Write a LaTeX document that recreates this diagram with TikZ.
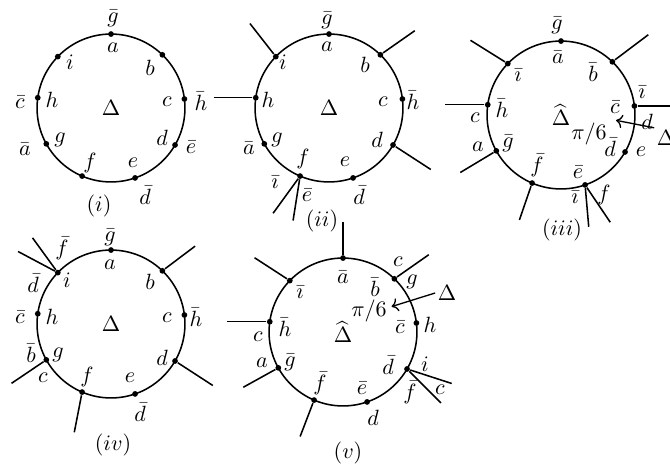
\documentclass[tikz,border=0pt]{standalone}
\usepackage{amsmath,amssymb}
\usetikzlibrary{arrows.meta}

\begin{document}
\begin{tikzpicture}[
  x=0.453pt, y=0.453pt,
  every node/.style={inner sep=1pt},
  ring/.style={circle, draw, line width=0.7pt, minimum size=67pt, inner sep=0pt, outer sep=0pt},
  dot/.style={circle, fill, inner sep=0pt, minimum size=2.6pt},
  leg/.style={line width=0.7pt},
  pointer/.style={-{To}, line width=0.6pt}
]
  \useasboundingbox (0,0) rectangle (670,-466);

  % Circle (i)
  \node[ring] (c1) at (111,-108) {$\Delta$};
  \node[dot] (c1a) at (c1.90) {};  \node[dot] (c1b) at (c1.46) {};
  \node[dot] (c1c) at (c1.7) {};   \node[dot] (c1d) at (c1.330) {};
  \node[dot] (c1e) at (c1.289) {}; \node[dot] (c1f) at (c1.247) {};
  \node[dot] (c1g) at (c1.209) {}; \node[dot] (c1h) at (c1.172) {};
  \node[dot] (c1i) at (c1.136) {};
  \node (i1a) at (113,-48) {$a$};  \node (i1b) at (150,-68) {$b$};
  \node (i1c) at (167,-102) {$c$}; \node (i1d) at (162,-138) {$d$};
  \node (i1e) at (133,-163) {$e$}; \node (i1f) at (90,-163) {$f$};
  \node (i1g) at (60,-140) {$g$};  \node (i1h) at (52,-100) {$h$};
  \node (i1i) at (70,-62) {$i$};
  \node (o1a) at (113,-18) {$\bar g$};  \node (o1c) at (201,-101) {$\bar h$};
  \node (o1d) at (191,-147) {$\bar e$}; \node (o1e) at (145,-195) {$\bar d$};
  \node (o1g) at (25,-149) {$\bar a$};  \node (o1h) at (20,-102) {$\bar c$};
  \node (tag1) at (99,-206) {$(i)$};

  % Circle (ii)
  \node[ring] (c2) at (329,-108) {$\Delta$};
  \node[dot] (c2a) at (c2.90) {};  \node[dot] (c2b) at (c2.46) {};
  \node[dot] (c2c) at (c2.7) {};   \node[dot] (c2d) at (c2.330) {};
  \node[dot] (c2e) at (c2.289) {}; \node[dot] (c2f) at (c2.247) {};
  \node[dot] (c2g) at (c2.209) {}; \node[dot] (c2h) at (c2.172) {};
  \node[dot] (c2i) at (c2.136) {};
  \node (i2a) at (327,-47) {$a$};  \node (i2b) at (365,-65) {$b$};
  \node (i2c) at (383,-102) {$c$}; \node (i2d) at (377,-140) {$d$};
  \node (i2e) at (345,-162) {$e$}; \node (i2f) at (303,-159) {$f$};
  \node (i2g) at (277,-140) {$g$}; \node (i2h) at (268,-100) {$h$};
  \node (i2i) at (283,-62) {$i$};
  \node (o2a) at (327,-20) {$\bar g$};  \node (o2c) at (413,-100) {$\bar h$};
  \node (o2e) at (359,-195) {$\bar d$}; \node (o2f1) at (275,-182) {$\bar\imath$};
  \node (o2f2) at (307,-195) {$\bar e$}; \node (o2g) at (249,-148) {$\bar a$};
  \node (tag2) at (322,-221) {$(ii)$};
  \draw[leg] (c2b) -- ++(35:42);
  \draw[leg] (c2d) -- ++(-33:45);
  \draw[leg] (c2f) -- ++(-126:46);
  \draw[leg] (c2f) -- ++(-99:45);
  \draw[leg] (c2h) -- ++(180:42);
  \draw[leg] (c2i) -- ++(128:42);

  % Circle (iii)
  \node[ring] (c3) at (561,-115) {$\widehat{\Delta}$};
  \node[dot] (c3a) at (c3.90) {};  \node[dot] (c3b) at (c3.46) {};
  \node[dot] (c3c) at (c3.7) {};   \node[dot] (c3d) at (c3.330) {};
  \node[dot] (c3e) at (c3.289) {}; \node[dot] (c3f) at (c3.247) {};
  \node[dot] (c3g) at (c3.209) {}; \node[dot] (c3h) at (c3.172) {};
  \node[dot] (c3i) at (c3.136) {};
  \node (i3a) at (558,-57) {$\bar a$};  \node (i3b) at (593,-72) {$\bar b$};
  \node (i3c) at (615,-107) {$\bar c$}; \node (i3d) at (610,-147) {$\bar d$};
  \node (i3e) at (578,-172) {$\bar e$}; \node (i3f) at (537,-165) {$\bar f$};
  \node (i3g) at (508,-143) {$\bar g$}; \node (i3h) at (502,-108) {$\bar h$};
  \node (i3i) at (518,-75) {$\bar\imath$};
  \node (o3a) at (557,-25) {$\bar g$};
  \node (o3c1) at (642,-92) {$\bar\imath$}; \node (o3c2) at (647,-122) {$d$};
  \node (o3d) at (641,-152) {$e$};
  \node (o3e1) at (575,-197) {$\bar\imath$}; \node (o3e2) at (604,-195) {$f$};
  \node (o3g) at (478,-147) {$a$};  \node (o3h) at (475,-118) {$c$};
  \node (p3) at (589,-134) {$\pi/6$};
  \node (d3) at (666,-138) {$\Delta$};
  \node (tag3) at (562,-230) {$(iii)$};
  \draw[leg] (c3b) -- ++(37:45);
  \draw[leg] (c3c) -- ++(0:45);
  \draw[leg] (c3e) -- ++(-85:42);
  \draw[leg] (c3e) -- ++(-56:45);
  \draw[leg] (c3f) -- ++(-109:39);
  \draw[leg] (c3g) -- ++(-149:42);
  \draw[leg] (c3h) -- ++(180:43);
  \draw[leg] (c3i) -- ++(148:44);
  \draw[pointer] (d3.north west) -- ([xshift=3pt]p3.north east);

  % Circle (iv)
  \node[ring] (c4) at (111,-324) {$\Delta$};
  \node[dot] (c4a) at (c4.90) {};  \node[dot] (c4b) at (c4.46) {};
  \node[dot] (c4c) at (c4.7) {};   \node[dot] (c4d) at (c4.330) {};
  \node[dot] (c4e) at (c4.289) {}; \node[dot] (c4f) at (c4.247) {};
  \node[dot] (c4g) at (c4.209) {}; \node[dot] (c4h) at (c4.172) {};
  \node[dot] (c4i) at (c4.136) {};
  \node (i4a) at (110,-265) {$a$};  \node (i4b) at (150,-282) {$b$};
  \node (i4c) at (167,-318) {$c$};  \node (i4d) at (162,-358) {$d$};
  \node (i4e) at (130,-378) {$e$};  \node (i4f) at (87,-377) {$f$};
  \node (i4g) at (58,-355) {$g$};   \node (i4h) at (52,-317) {$h$};
  \node (i4i) at (67,-280) {$i$};
  \node (o4a) at (110,-237) {$\bar g$}; \node (o4c) at (196,-317) {$\bar h$};
  \node (o4e) at (140,-412) {$\bar d$};
  \node (o4g1) at (31,-353) {$\bar b$}; \node (o4g2) at (43,-378) {$c$};
  \node (o4h) at (20,-317) {$\bar c$};
  \node (o4i1) at (62,-248) {$\bar f$}; \node (o4i2) at (33,-283) {$\bar d$};
  \node (tag4) at (113,-445) {$(iv)$};
  \draw[leg] (c4b) -- ++(37:41);
  \draw[leg] (c4d) -- ++(-33:45);
  \draw[leg] (c4f) -- ++(-101:41);
  \draw[leg] (c4g) -- ++(-146:42);
  \draw[leg] (c4i) -- ++(152:45);
  \draw[leg] (c4i) -- ++(126:43);

  % Circle (v)
  \node[ring] (c5) at (343,-332) {$\widehat{\Delta}$};
  \node[dot] (c5a) at (c5.90) {};  \node[dot] (c5b) at (c5.46) {};
  \node[dot] (c5c) at (c5.7) {};   \node[dot] (c5d) at (c5.330) {};
  \node[dot] (c5e) at (c5.289) {}; \node[dot] (c5f) at (c5.247) {};
  \node[dot] (c5g) at (c5.209) {}; \node[dot] (c5h) at (c5.172) {};
  \node[dot] (c5i) at (c5.136) {};
  \node (i5a) at (343,-277) {$\bar a$}; \node (i5b) at (375,-287) {$\bar b$};
  \node (i5c) at (400,-327) {$\bar c$}; \node (i5d) at (388,-365) {$\bar d$};
  \node (i5e) at (362,-388) {$\bar e$}; \node (i5f) at (320,-383) {$\bar f$};
  \node (i5g) at (290,-362) {$\bar g$}; \node (i5h) at (285,-327) {$\bar h$};
  \node (i5i) at (300,-292) {$\bar\imath$};
  \node (o5b1) at (398,-262) {$c$}; \node (o5b2) at (412,-282) {$g$};
  \node (o5c) at (430,-325) {$h$};
  \node (o5d1) at (425,-364) {$i$}; \node (o5d2) at (440,-390) {$c$};
  \node (o5d3) at (410,-392) {$\bar f$};
  \node (o5e) at (373,-418) {$d$};
  \node (o5g) at (262,-363) {$a$};  \node (o5h) at (258,-337) {$c$};
  \node (p5) at (369,-311) {$\pi/6$};
  \node (d5) at (447,-293) {$\Delta$};
  \node (tag5) at (348,-453) {$(v)$};
  \draw[leg] (c5a) -- ++(90:36);
  \draw[leg] (c5b) -- ++(35:42);
  \draw[leg] (c5d) -- ++(-18:47);
  \draw[leg] (c5d) -- ++(-45:48);
  \draw[leg] (c5f) -- ++(-111:39);
  \draw[leg] (c5g) -- ++(-151:40);
  \draw[leg] (c5h) -- ++(180:43);
  \draw[leg] (c5i) -- ++(147:42);
  \draw[pointer] (d5.west) -- ([shift={(1pt,2pt)}]p5.east);
\end{tikzpicture}
\end{document}
